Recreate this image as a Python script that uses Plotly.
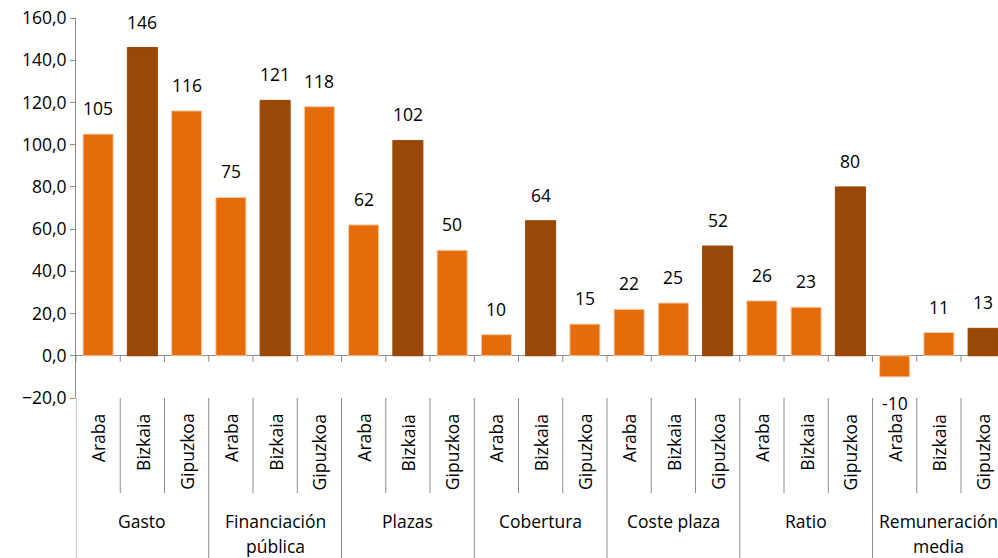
import plotly.graph_objects as go

# Index values per territory and indicator
groups = ["Gasto", "Financiación<br>pública", "Plazas", "Cobertura",
          "Coste plaza", "Ratio", "Remuneración<br>media"]
regions = ["Araba", "Bizkaia", "Gipuzkoa"]
araba = [105, 75, 62, 10, 22, 26, -10]
bizkaia = [146, 121, 102, 64, 25, 23, 11]
gipuzkoa = [116, 118, 50, 15, 52, 80, 13]
y_ticks = [-20, 0, 20, 40, 60, 80, 100, 120, 140, 160]

ORANGE = "#E46C0A"
BROWN = "#984807"
EDGE = "#F8CBA6"
AXIS = "#8C8C8C"
FONT = "Open Sans"
FSIZE = 17.5

series = [araba, bizkaia, gipuzkoa]
xs, ys, colors, edges = [], [], [], []
for g in range(len(groups)):
    vals = [s[g] for s in series]
    top = max(vals)
    for r, v in enumerate(vals):
        xs.append(g * len(regions) + r)
        ys.append(v)
        colors.append(BROWN if v == top else ORANGE)
        edges.append(BROWN if v == top else EDGE)

n = len(xs)
slot_px = 44.25
plot_w = 998 - 76
x_max = -0.5 + plot_w / slot_px

fig = go.Figure(go.Bar(
    x=xs, y=ys,
    marker=dict(color=colors, line=dict(color=edges, width=1)),
    width=0.68,
    hoverinfo="skip",
))

font = dict(family=FONT, size=FSIZE, color="#000000")
annotations = []
# value labels
for x, v in zip(xs, ys):
    annotations.append(dict(
        x=x, y=v, xref="x", yref="y", text=f"{v:d}", showarrow=False,
        yanchor="bottom" if v >= 0 else "top", yshift=12 if v >= 0 else -12,
        font=font,
    ))
# inner category labels (rotated)
for i, x in enumerate(xs):
    annotations.append(dict(
        x=x, y=0, xref="x", yref="paper", text=regions[i % len(regions)],
        showarrow=False, textangle=-90, yanchor="top", yshift=-14,
        font=font,
    ))
# outer group labels
for g, label in enumerate(groups):
    cx = g * len(regions) + (len(regions) - 1) / 2
    for k, line in enumerate(label.split("<br>")):
        annotations.append(dict(
            x=cx, y=0, xref="x", yref="paper", text=line, showarrow=False,
            yanchor="middle", yshift=-123 - 25 * k,
            font=font,
        ))

shapes = []
bottom_inner = -(493 - 398) / 380
bottom_outer = -(558 - 398) / 380
for k in range(n + 1):
    b = k - 0.5
    if b > x_max:
        continue
    is_group = k % len(regions) == 0
    # tick mark under the zero line
    shapes.append(dict(type="line", xref="x", yref="y", x0=b, x1=b,
                       ysizemode="pixel", yanchor=0, y0=0, y1=-6,
                       line=dict(color=AXIS, width=1)))
    # divider between category labels
    shapes.append(dict(type="line", xref="x", yref="paper", x0=b, x1=b,
                       y0=0, y1=bottom_outer if is_group else bottom_inner,
                       line=dict(color=AXIS, width=1)))

fig.update_layout(
    width=998, height=558,
    margin=dict(l=76, r=0, t=18, b=160),
    plot_bgcolor="white", paper_bgcolor="white",
    showlegend=False,
    separators=",.",
    font=font,
    xaxis=dict(range=[-0.5, x_max], showticklabels=False, showgrid=False,
               zeroline=False, showline=False, ticks=""),
    yaxis=dict(range=[-20, 160], tickvals=y_ticks, tickformat=".1f",
               showgrid=False, showline=True, linecolor=AXIS, linewidth=1,
               ticks="outside", ticklen=5, tickcolor=AXIS,
               zeroline=True, zerolinecolor=AXIS, zerolinewidth=1,
               tickfont=font),
    annotations=annotations,
    shapes=shapes,
)

fig.write_html("out.html")
